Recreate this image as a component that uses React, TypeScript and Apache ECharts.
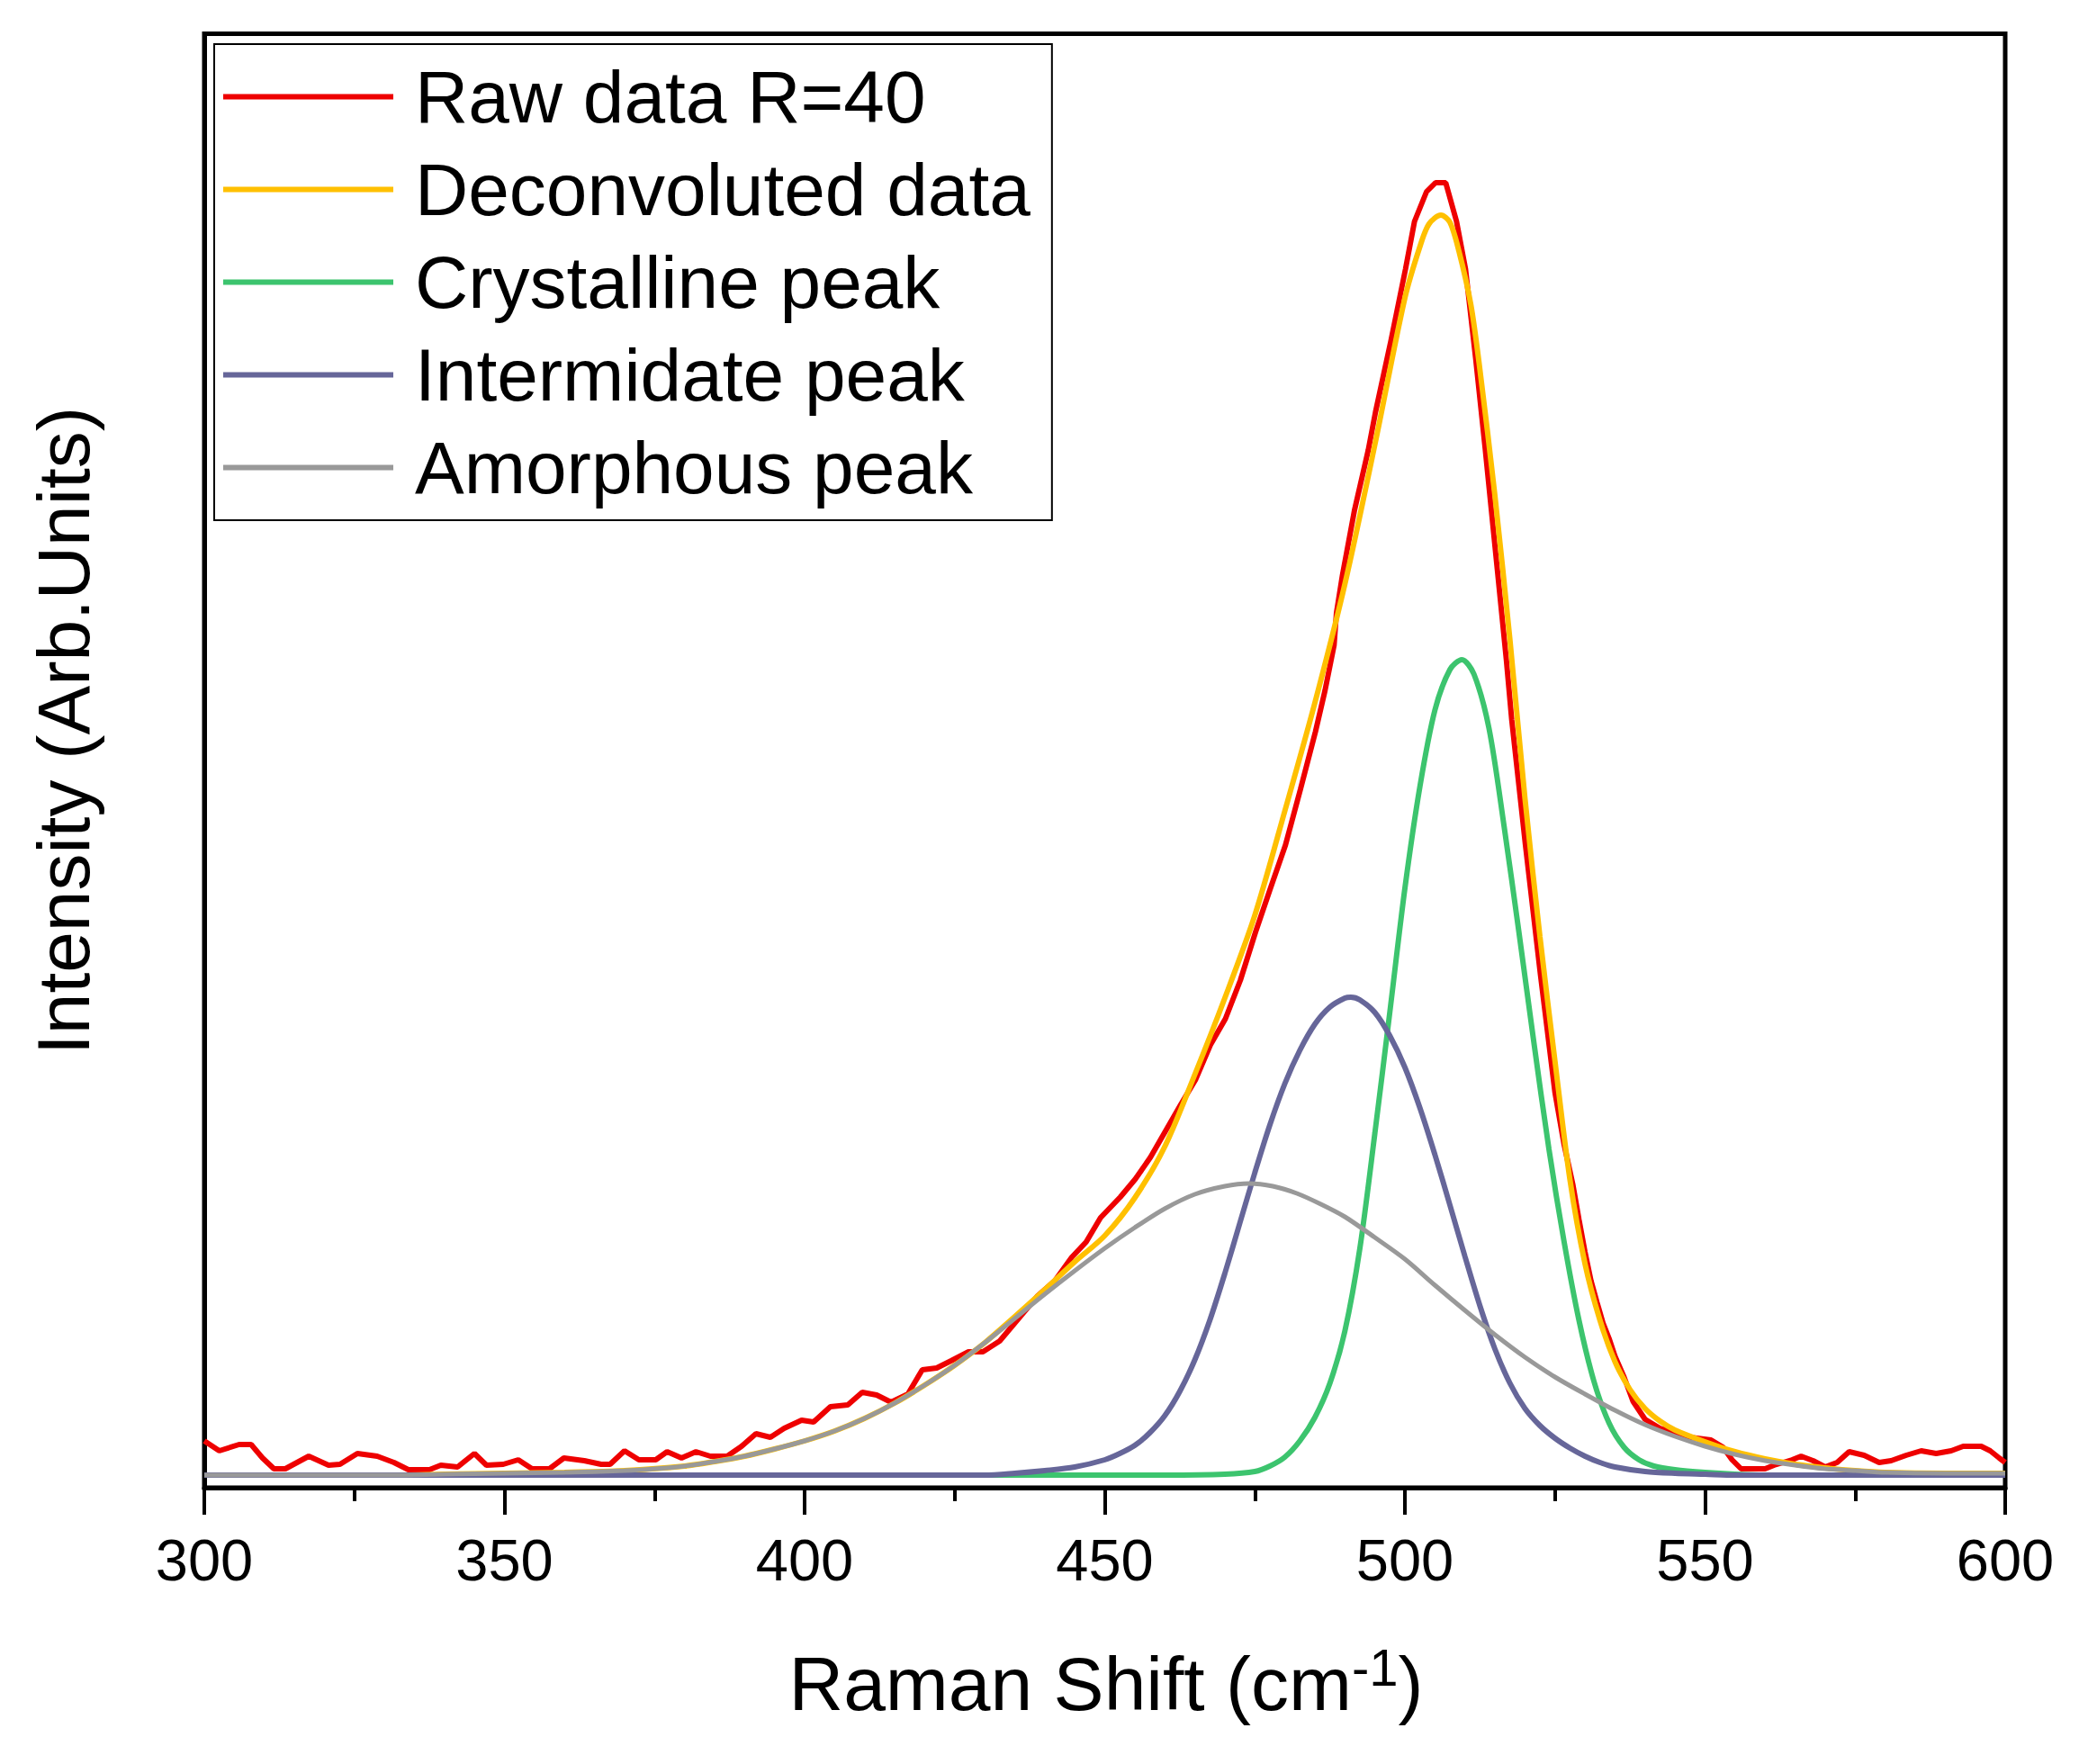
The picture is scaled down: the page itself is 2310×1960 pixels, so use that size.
import React, { useEffect, useRef } from "react";
import * as echarts from "echarts";

const FONT = "'Liberation Sans', Arial, Helvetica, sans-serif";

const seriesNames = [
  "Raw data R=40",
  "Deconvoluted data",
  "Crystalline peak",
  "Intermidate peak",
  "Amorphous peak",
];
const seriesColors = ["#EE0000", "#FFC000", "#3CC46E", "#666699", "#999999"];

const xTickMin = 300;
const xTickMax = 600;
const xTickStep = 50;

const rawData = [
  [300, 38], [302.5, 27], [305.8, 34], [307.8, 34], [309.7, 19], [311.6, 7], [313.5, 7],
  [317.4, 21], [320.7, 11], [322.6, 12], [325.5, 24], [328.8, 21], [331.6, 14], [334, 6],
  [337.5, 6], [339.4, 11], [342.2, 9], [345, 24], [347, 11], [349.8, 12], [352.3, 17],
  [354.6, 7], [357.5, 7], [359.9, 19], [363.3, 16], [366.1, 12], [367.6, 12], [370, 27],
  [372.4, 17], [375.2, 17], [377.1, 26], [379.5, 19], [381.9, 26], [384.3, 21], [387.1, 21],
  [389.5, 32], [391.9, 46], [394.3, 42], [396.6, 52], [399.5, 61], [401.5, 59], [404.3, 76],
  [407.2, 78], [409.6, 92], [412, 89], [414.4, 81], [417.2, 90], [419.6, 117], [422, 119],
  [424.4, 127], [427.3, 137], [429.7, 137], [432.5, 149], [435.9, 176], [438.8, 199],
  [441.7, 216], [444.5, 242], [446.9, 259], [449.3, 286], [452.6, 309], [455.1, 329],
  [457.6, 353], [460.1, 382], [462.6, 411], [465.1, 439], [467.6, 478], [470.1, 507],
  [472.6, 550], [475.1, 603], [477.6, 652], [480.1, 700], [482.6, 762], [485.1, 826],
  [486.7, 872], [488.2, 922], [488.6, 958], [489.6, 1000], [491.6, 1072], [493.9, 1139],
  [495.1, 1181], [497.6, 1258], [500.1, 1340], [501.6, 1393], [503.6, 1426], [505.1, 1436],
  [506.8, 1436], [508.6, 1393], [510.1, 1340], [511.8, 1240], [513.4, 1139], [515.4, 1006],
  [516.9, 906], [517.8, 839], [520.1, 699], [522.6, 555], [525, 425], [526.5, 368],
  [528, 322], [529, 284], [530, 248], [531, 216], [532, 192], [533, 169], [534, 152],
  [535, 132], [536.5, 109], [538, 82], [540, 62], [542.5, 52], [545, 47], [547.5, 42],
  [551, 39], [553, 31], [554.5, 17], [556, 7], [560, 7], [561.5, 11], [564.5, 17], [566, 21],
  [568, 16], [570, 9], [572, 14], [574, 26], [576.5, 22], [579, 14], [581, 16], [583.5, 22],
  [586, 27], [588.5, 24], [591, 27], [593, 32], [596, 32], [597.5, 27], [599, 19], [600, 14],
];

const deconvData = [
  [300, 0], [330, 0], [340, 1], [350, 2], [360, 3], [370, 5], [380, 10], [385, 15], [390, 21],
  [395, 29], [400, 38], [405, 49], [410, 63], [415, 80], [420, 100], [425, 122], [430, 147],
  [435, 176], [440, 206], [445, 237], [450, 266], [455, 308], [460, 365], [465, 445],
  [470, 530], [475, 622], [480, 738], [485, 858], [490, 990], [495, 1145], [500, 1308],
  [502.5, 1365], [504, 1390], [506, 1400], [507.5, 1392], [509, 1360], [511, 1300],
  [512.5, 1228], [515, 1088], [517.5, 928], [520, 752], [522.5, 598], [525, 460],
  [527.5, 328], [530, 235], [532.5, 172], [535, 126], [537.5, 95], [540, 74], [542.5, 60],
  [545, 50], [550, 37], [555, 26], [560, 18], [565, 12], [570, 8], [575, 5], [580, 3],
  [590, 2], [600, 2],
];

const crystallineData = [
  [300, 0], [460, 0], [470, 1], [475, 4], [477.5, 10], [480, 20], [482.5, 38], [485, 64],
  [487.5, 102], [490, 160], [492.5, 252], [495, 380], [497.5, 515], [500, 652], [502.5, 765],
  [505, 850], [507.5, 895], [509.5, 906], [511.5, 890], [514, 830], [516.5, 722], [519, 603],
  [521.5, 480], [524, 362], [526.5, 260], [529, 172], [531.5, 104], [534, 58], [536.5, 31],
  [539, 17], [541.5, 10], [545, 6], [550, 3], [555, 1], [560, 0], [600, 0],
];

const intermediateData = [
  [300, 0], [430, 0], [435, 2], [440, 5], [445, 9], [450, 17], [452.5, 24], [455, 33],
  [457.5, 47], [460, 66], [462.5, 93], [465, 128], [467.5, 172], [470, 224], [472.5, 280],
  [475, 336], [477.5, 389], [480, 435], [482.5, 472], [485, 501], [487.5, 520], [490, 530],
  [491, 531], [492.5, 528], [495, 514], [497.5, 488], [500, 453], [502.5, 408], [505, 356],
  [507.5, 300], [510, 243], [512.5, 188], [515, 140], [517.5, 102], [520, 74], [522.5, 55],
  [525, 41], [527.5, 30], [530, 21], [532.5, 14], [535, 9], [540, 4], [545, 2], [550, 1],
  [555, 0], [600, 0],
];

const amorphousData = [
  [300, 0], [330, 0], [340, 1], [350, 2], [360, 3], [370, 5], [375, 7], [380, 10], [385, 15],
  [390, 21], [395, 29], [400, 38], [405, 49], [410, 63], [415, 80], [420, 100], [425, 122],
  [430, 147], [435, 174], [440, 201], [445, 227], [450, 252], [455, 275], [460, 296],
  [465, 312], [470, 321], [474, 324], [478, 321], [482, 313], [486, 301], [490, 287],
  [495, 264], [500, 240], [505, 211], [510, 183], [515, 156], [520, 131], [525, 109],
  [530, 90], [535, 72], [540, 56], [545, 43], [550, 32], [555, 23], [560, 16], [565, 11],
  [570, 7], [575, 5], [580, 3], [590, 2], [600, 2],
];

const allData = [rawData, deconvData, crystallineData, intermediateData, amorphousData];

export default function App() {
  const ref = useRef<HTMLDivElement | null>(null);

  useEffect(() => {
    document.body.style.margin = "0";
    if (!ref.current) return;
    const chart = echarts.init(ref.current, undefined, { renderer: "svg" });

    const series = allData.map((d, i) => ({
      name: seriesNames[i],
      type: "line",
      data: d,
      showSymbol: false,
      symbol: "none",
      smooth: i === 0 ? false : 0.3,
      lineStyle: { width: i === 4 ? 5 : 6, color: seriesColors[i] },
      itemStyle: { color: seriesColors[i] },
      z: 2 + i,
    }));

    chart.setOption({
      animation: false,
      backgroundColor: "#ffffff",
      grid: {
        left: 227,
        right: 2310 - 2228,
        top: 37.5,
        bottom: 1960 - 1653,
        show: true,
        borderColor: "#000",
        borderWidth: 5,
        backgroundColor: "transparent",
      },
      legend: {
        data: seriesNames,
        orient: "vertical",
        left: 238,
        top: 49,
        padding: [7, 24, 7, 10],
        itemGap: 0,
        itemWidth: 189,
        itemHeight: 6,
        icon: "rect",
        borderColor: "#000",
        borderWidth: 2,
        backgroundColor: "#fff",
        textStyle: {
          fontSize: 82,
          lineHeight: 103,
          fontFamily: FONT,
          color: "#000",
          padding: [0, 0, 0, 19],
        },
      },
      xAxis: {
        type: "value",
        min: xTickMin,
        max: xTickMax,
        interval: xTickStep,
        axisLine: { show: true, onZero: false, lineStyle: { color: "#000", width: 5 } },
        axisTick: { show: true, inside: false, length: 30, lineStyle: { color: "#000", width: 4 } },
        minorTick: { show: true, splitNumber: 2, length: 15, lineStyle: { color: "#000", width: 4 } },
        splitLine: { show: false },
        minorSplitLine: { show: false },
        axisLabel: {
          fontSize: 65,
          fontFamily: FONT,
          color: "#000",
          margin: 48,
        },
      },
      yAxis: {
        type: "value",
        min: -14,
        max: 1601.5,
        axisLine: { show: true, lineStyle: { color: "#000", width: 5 } },
        axisTick: { show: false },
        axisLabel: { show: false },
        splitLine: { show: false },
      },
      graphic: [
        {
          type: "text",
          x: 70,
          y: 812,
          rotation: Math.PI / 2,
          style: {
            text: "Intensity (Arb.Units)",
            fontSize: 82,
            fontFamily: FONT,
            fill: "#000",
            align: "center",
            verticalAlign: "middle",
            textAlign: "center",
            textVerticalAlign: "middle",
          },
        },
        {
          type: "text",
          x: 1229,
          y: 1823,
          style: {
            text: "{a|Raman Shift (cm}{b|-1}{a|)}",
            fill: "#000",
            align: "center",
            verticalAlign: "top",
            textAlign: "center",
            textVerticalAlign: "top",
            rich: {
              a: { fontSize: 84, fontFamily: FONT, lineHeight: 96, fill: "#000" },
              b: { fontSize: 58, fontFamily: FONT, lineHeight: 41, verticalAlign: "top", fill: "#000" },
            },
          },
        },
      ],
      series,
    });

    return () => {
      chart.dispose();
    };
  }, []);

  return (
    <div
      ref={ref}
      style={{ width: 2310, height: 1960, position: "absolute", left: 0, top: 0 }}
    />
  );
}
